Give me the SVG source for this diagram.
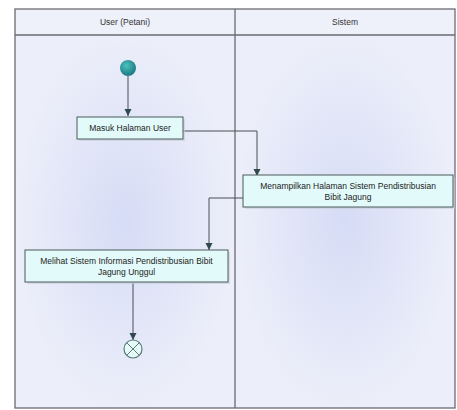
<svg xmlns="http://www.w3.org/2000/svg" width="457" height="410" viewBox="0 0 457 410">
<style>
.lane{stroke:#6a6a72;stroke-width:1.3}
.hdr{font-family:"Liberation Sans",Arial,sans-serif;font-size:8.5px;fill:#333;text-anchor:middle}
.box{fill:#e2fbfa;stroke:#4a5a5a;stroke-width:1}
.shadow{fill:#c8cdd8;opacity:0.6}
.txt{font-family:"Liberation Sans",Arial,sans-serif;font-size:8.5px;fill:#222;text-anchor:middle}
.conn{fill:none;stroke:#4a4f55;stroke-width:1}
</style>
<defs>
<marker id="arr" markerWidth="8" markerHeight="8" refX="7" refY="4" orient="auto" markerUnits="userSpaceOnUse">
<path d="M0,0.5 L7,4 L0,7.5 z" fill="#2f4a4a"/>
</marker>
<radialGradient id="glow" cx="0.5" cy="0.5" r="0.5">
<stop offset="0" stop-color="#d6dcf6"/>
<stop offset="1" stop-color="#eceef9"/>
</radialGradient>
<radialGradient id="ball" cx="0.4" cy="0.35" r="0.6">
<stop offset="0" stop-color="#4fc0c0"/>
<stop offset="1" stop-color="#1e7f86"/>
</radialGradient>
</defs>
<rect width="457" height="410" fill="#ffffff"/>
<g id="lanes">
<rect x="15" y="35" width="220" height="373" fill="url(#glow)"/>
<rect x="235" y="35" width="220" height="373" fill="url(#glow)"/>
<rect x="15" y="9" width="440" height="26" fill="#eef0fa"/>
<rect x="15" y="9" width="440" height="399" fill="none" class="lane"/>
<line x1="15" y1="35" x2="455" y2="35" class="lane"/>
<line x1="235" y1="9" x2="235" y2="408" class="lane"/>
<text class="hdr" x="125" y="25">User (Petani)</text>
<text class="hdr" x="345" y="25">Sistem</text>
</g>
<g id="connectors">
<path class="conn" d="M128,76 L128,116" marker-end="url(#arr)"/>
<path class="conn" d="M183,131 L257,131 L257,176" marker-end="url(#arr)"/>
<path class="conn" d="M243,198 L209,198 L209,250" marker-end="url(#arr)"/>
<path class="conn" d="M133,283 L133,340" marker-end="url(#arr)"/>
</g>
<g id="start">
<circle cx="128" cy="68" r="8" fill="url(#ball)"/>
</g>
<g id="n1">
<rect class="shadow" x="79" y="119" width="106" height="22"/>
<rect class="box" x="77" y="117" width="106" height="22"/>
<text class="txt" x="130" y="131">Masuk Halaman User</text>
</g>
<g id="n2">
<rect class="shadow" x="245" y="177" width="210" height="32"/>
<rect class="box" x="243" y="175" width="210" height="32"/>
<text class="txt" x="348" y="188.5">Menampilkan Halaman Sistem Pendistribusian</text>
<text class="txt" x="348" y="200">Bibit Jagung</text>
</g>
<g id="n3">
<rect class="shadow" x="27" y="252" width="203" height="32"/>
<rect class="box" x="25" y="250" width="203" height="32"/>
<text class="txt" x="126.5" y="263.5">Melihat Sistem Informasi Pendistribusian Bibit</text>
<text class="txt" x="126.5" y="275">Jagung Unggul</text>
</g>
<g id="end">
<circle cx="133" cy="349" r="9" fill="#e6fbf8" stroke="#5a7a78" stroke-width="1.2"/>
<path d="M127,343 L139,355 M139,343 L127,355" stroke="#5a7a78" stroke-width="1"/>
</g>
</svg>
